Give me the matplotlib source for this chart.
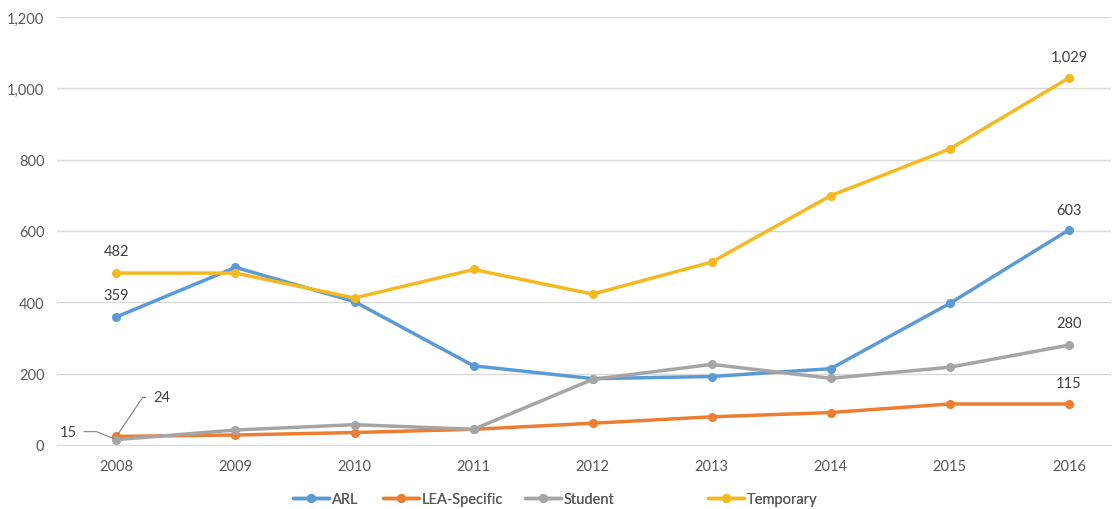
import matplotlib
matplotlib.use("Agg")
import matplotlib.pyplot as plt
from matplotlib.lines import Line2D

years = ["2008", "2009", "2010", "2011", "2012", "2013", "2014", "2015", "2016"]
arl = [359, 498, 402, 222, 186, 192, 214, 397, 603]
lea = [24, 28, 35, 44, 61, 79, 91, 115, 115]
student = [15, 42, 57, 44, 184, 226, 187, 218, 280]
temporary = [482, 482, 412, 492, 423, 513, 699, 830, 1029]
yticks = [0, 200, 400, 600, 800, 1000, 1200]
ytick_labels = ["0", "200", "400", "600", "800", "1,000", "1,200"]

plt.rcParams['font.family'] = ['Lato', 'DejaVu Sans']
txt = "#404040"

fig = plt.figure(figsize=(11.15, 5.10), dpi=100)
ax = fig.add_axes([0.051, 0.1255, 0.945, 0.8393])

x = list(range(len(years)))
series = [
    ("ARL", arl, "#5B9BD5"),
    ("LEA-Specific", lea, "#ED7D31"),
    ("Student", student, "#A5A5A5"),
    ("Temporary", temporary, "#F5B920"),
]
handles = []
for name, vals, col in series:
    h, = ax.plot(x, vals, color=col, lw=2.5, marker="o", ms=5.5, label=name,
                 solid_capstyle="round", zorder=3)
    handles.append(h)

ax.set_ylim(0, 1200)
ax.set_xlim(-0.5, 8.35)
ax.set_yticks(yticks)
ax.set_yticklabels(ytick_labels)
ax.set_xticks(x)
ax.set_xticklabels(years)
ax.grid(axis="y", color="#D9D9D9", lw=1)
ax.set_axisbelow(True)
for s in ["top", "right", "left"]:
    ax.spines[s].set_visible(False)
ax.spines["bottom"].set_color("#D9D9D9")
ax.tick_params(axis="both", length=0, labelsize=10.5, colors="#595959")
ax.tick_params(axis="x", pad=10)
ax.tick_params(axis="y", pad=9)

def lab(i, vals, text, dx=0, dy=21):
    ax.annotate(text, (x[i], vals[i]), xytext=(dx, dy), textcoords="offset pixels",
                ha="center", va="center", fontsize=10.5, color=txt)

lab(0, temporary, "482", dy=22)
lab(0, arl, "359", dy=22)
lab(8, temporary, "1,029", dy=21)
lab(8, arl, "603", dy=20)
lab(8, student, "280", dy=22)
lab(8, lea, "115", dy=21)

ax.annotate("24", (x[0], lea[0]), xytext=(45, 39), textcoords="offset pixels",
            ha="center", va="center", fontsize=10.5, color=txt,
            arrowprops=dict(arrowstyle="-", color="#808080", lw=0.8,
                            connectionstyle="angle,angleA=0,angleB=56,rad=0",
                            shrinkA=3, shrinkB=2))
ax.annotate("15", (x[0], student[0]), xytext=(-48, 8), textcoords="offset pixels",
            ha="center", va="center", fontsize=10.5, color=txt,
            arrowprops=dict(arrowstyle="-", color="#808080", lw=0.8,
                            connectionstyle="angle,angleA=0,angleB=158,rad=0",
                            shrinkA=3, shrinkB=2))

# legend entries placed individually (uneven spacing as in the reference)
legend_x = [293, 383, 525, 708]
for h, lx in zip(handles, legend_x):
    leg = fig.legend(handles=[h], loc="center left",
                     bbox_to_anchor=(lx / 1115, 10 / 510), frameon=False,
                     fontsize=10.5, labelcolor="#595959", handlelength=2.5,
                     handletextpad=0.15, borderaxespad=0, borderpad=0)
    fig.add_artist(leg)

fig.savefig("out.png", dpi=100)
